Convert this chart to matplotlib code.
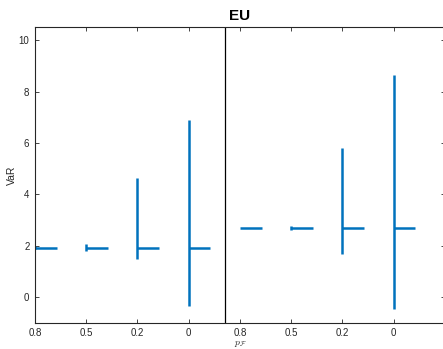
import matplotlib
matplotlib.use("Agg")
import matplotlib.pyplot as plt

plt.rcParams['font.family'] = ['Liberation Sans', 'DejaVu Sans']
plt.rcParams['mathtext.fontset'] = 'cm'

# data
tick_labels = ['0.8', '0.5', '0.2', '0', '0.8', '0.5', '0.2', '0']
means = [1.91, 1.91, 1.91, 1.91, 2.68, 2.68, 2.68, 2.68]
lows = [1.85, 1.80, 1.47, -0.34, 2.67, 2.62, 1.66, -0.47]
highs = [2.00, 2.06, 4.64, 6.91, 2.69, 2.76, 5.82, 8.64]

blue = '#0072BD'
grey = '#262626'

fig = plt.figure(figsize=(4.43, 3.49), dpi=100)
ax = fig.add_axes([0.079, 0.0754, 0.9255, 0.8464])

pos = list(range(1, len(tick_labels) + 1))
for p, m, lo, hi in zip(pos, means, lows, highs):
    ax.plot([p, p], [lo, hi], color=blue, lw=1.8, solid_capstyle='butt')
    ax.plot([p, p + 0.42], [m, m], color=blue, lw=1.8, solid_capstyle='butt')

# separator between the two groups
ax.axvline(4.7, color='black', lw=0.9)

ax.set_xlim(1, 9)
ax.set_ylim(-1, 10.5)
ax.set_xticks(pos)
ax.set_xticklabels(tick_labels)
ax.set_yticks([0, 2, 4, 6, 8, 10])

ax.tick_params(direction='in', length=3, width=0.6, colors=grey,
               labelsize=7, top=True, right=True, pad=4)
for s in ax.spines.values():
    s.set_color(grey)
    s.set_linewidth(0.8)

ax.set_title('EU', fontsize=11, fontweight='bold', pad=5)
ax.set_ylabel('VaR', fontsize=7.5, color=grey)
ax.yaxis.set_label_coords(-0.043, 0.5)
ax.set_xlabel(r'$p_{\mathcal{F}}$', fontsize=7, color=grey, labelpad=1)
ax.xaxis.set_label_coords(0.5, -0.055)

fig.savefig('out.png', dpi=100)
